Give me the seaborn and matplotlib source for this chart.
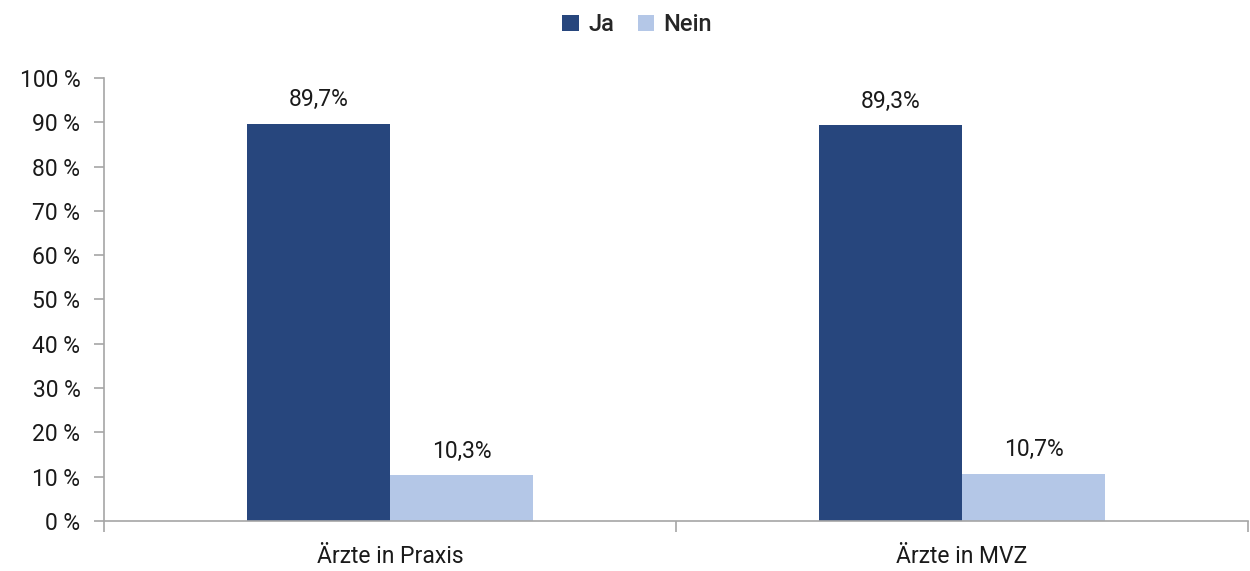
import matplotlib
matplotlib.use("Agg")
import matplotlib.pyplot as plt
import seaborn as sns
import pandas as pd
from matplotlib.ticker import FixedLocator

categories = ["Ärzte in Praxis", "Ärzte in MVZ"]
series_names = ["Ja", "Nein"]
ja_values = [89.7, 89.3]
nein_values = [10.3, 10.7]
value_labels_ja = ["89,7%", "89,3%"]
value_labels_nein = ["10,3%", "10,7%"]
y_ticks = [0, 10, 20, 30, 40, 50, 60, 70, 80, 90, 100]
y_tick_labels = [f"{t} %" for t in y_ticks]
colors = ["#27467D", "#B4C7E7"]

df = pd.DataFrame({
    "Kategorie": categories * 2,
    "Antwort": [series_names[0]] * 2 + [series_names[1]] * 2,
    "Wert": ja_values + nein_values,
})

sns.set_style("white")
plt.rcParams["font.family"] = ["Roboto", "DejaVu Sans"]

fig = plt.figure(figsize=(12.5, 5.71), dpi=100)
ax = fig.add_axes([0.0832, 0.0876, 0.9152, 0.7758])

sns.barplot(data=df, x="Kategorie", y="Wert", hue="Antwort", order=categories,
            hue_order=series_names, palette=colors, width=0.5, saturation=1,
            linewidth=0, ax=ax, legend=True)

for cont, labels in zip(ax.containers, [value_labels_ja, value_labels_nein]):
    ax.bar_label(cont, labels=labels, padding=9, fontsize=16.5, color="#1a1a1a")

ax.set_xlim(-0.5, 1.5)
ax.set_ylim(0, 100)
ax.set_yticks(y_ticks)
ax.set_yticklabels(y_tick_labels)
ax.set_xlabel("")
ax.set_ylabel("")

# category labels as minor ticks, boundary ticks as major
ax.xaxis.set_major_locator(FixedLocator([-0.5, 0.5, 1.5]))
ax.set_xticklabels(["", "", ""])
ax.xaxis.set_minor_locator(FixedLocator([0, 1]))
ax.set_xticklabels(categories, minor=True)
ax.tick_params(axis="x", which="major", length=8, width=1.2, color="#a6a6a6", direction="out")
ax.tick_params(axis="x", which="minor", length=0, labelsize=16.5, labelcolor="#1a1a1a", pad=17)
ax.tick_params(axis="y", length=7, width=1.2, color="#a6a6a6", direction="out",
               labelsize=16.5, labelcolor="#1a1a1a", pad=10)
ax.tick_params(bottom=True, left=True)

for s in ["top", "right"]:
    ax.spines[s].set_visible(False)
for s in ["left", "bottom"]:
    ax.spines[s].set_color("#a6a6a6")
    ax.spines[s].set_linewidth(1.2)

ax.legend(loc="center", bbox_to_anchor=(0.466, 1.12), ncol=2, frameon=False,
          prop={"weight": "medium", "size": 17}, handlelength=0.7, handleheight=0.7,
          handletextpad=0.4, columnspacing=1.0)

fig.savefig("out.png", dpi=100)
